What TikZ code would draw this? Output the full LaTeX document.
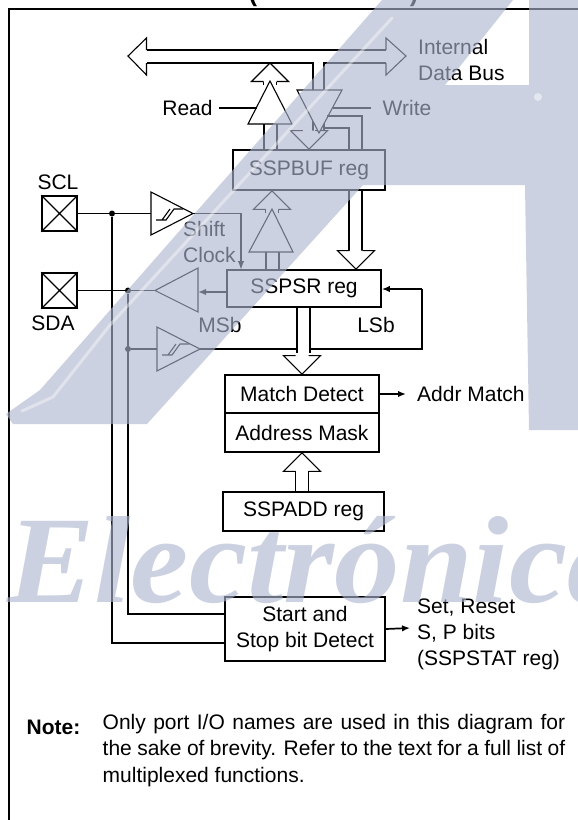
\documentclass[tikz,border=0pt]{standalone}
\usepackage{fontspec}
\setmainfont{Liberation Sans}
\newfontfamily\wmfont{Liberation Serif}
\usepackage{tikz}
\usetikzlibrary{positioning,arrows.meta,calc}
\definecolor{wmblue}{rgb}{0.68,0.71,0.81}
\tikzset{
  wire/.style={line width=1.7pt},
  thinwire/.style={line width=1.1pt},
  flow/.style={wire,-{Latex[length=8pt,width=6.5pt]}},
  label/.style={font=\fontsize{21}{26}\selectfont,inner sep=0pt,align=left},
  regbox/.style={draw,wire,fill=white,label,align=center},
  padbox/.style={draw,wire,minimum size=35pt,inner sep=0pt},
  buffer/.style={thinwire,fill=white},
  jointdot/.style={circle,fill=black,inner sep=0pt,minimum size=6pt},
  wmshape/.style={fill=wmblue,opacity=0.62},
}
% hollow bus arrow: tip, tail length, rotation
\newcommand{\hollowbus}[3]{%
  \draw[thinwire,fill=white,shift={(#1)},rotate=#3]
    (-6.5,18.5) -- (-18.5,18.5) -- (0,0) -- (18.5,18.5) -- (6.5,18.5);
  \draw[wire,shift={(#1)},rotate=#3] (-6.5,18.5) -- (-6.5,#2) (6.5,18.5) -- (6.5,#2);}
% hysteresis mark inside a buffer
\newcommand{\schmitt}[1]{%
  \draw[thinwire,shift={(#1)}] (-8,6) -- (2,6) -- (10,-5) -- (19,-5) (-2,6) -- (6,-5);}
\begin{document}
\begin{tikzpicture}[x=1pt,y=-1pt]
  \useasboundingbox (0,0) rectangle (578,820);
  \node[label,font=\fontsize{25}{25}\selectfont\bfseries] (ttlleft) at (253,-5) {(};
  \node[label,font=\fontsize{25}{25}\selectfont\bfseries] (ttlright) at (414,-5) {)};
  \draw[wire] (9,820) -- (9,9) -- (578,9);

  % registers
  \node[regbox,minimum width=152pt,minimum height=40pt] (sspbuf) at (309,170) {SSPBUF reg};
  \node[regbox,minimum width=154pt,minimum height=37pt] (sspsr) at (304,288.5) {SSPSR reg};
  \node[regbox,minimum width=154pt,minimum height=38pt] (match) at (302,394) {Match Detect};
  \node[regbox,minimum width=154pt,minimum height=39pt,below=-1.7pt of match] (mask) {Address Mask};
  \node[regbox,minimum width=161pt,minimum height=39pt] (sspadd) at (303.5,511.5) {SSPADD reg};
  \node[regbox,minimum width=160pt,minimum height=64pt] (startstop) at (305,629) {Start and\\Stop bit Detect};

  % pins
  \node[padbox] (scl) at (59.5,213.5) {};
  \node[padbox] (sda) at (59.5,290.5) {};
  \draw[thinwire] (scl.south west) -- (scl.north east) (scl.north west) -- (scl.south east);
  \draw[thinwire] (sda.south west) -- (sda.north east) (sda.north west) -- (sda.south east);
  \node[label] (scllbl) at (58,182) {SCL};
  \node[label] (sdalbl) at (53,323) {SDA};

  % labels
  \node[label,anchor=west] (intlbl) at (418,60) {Internal\\Data Bus};
  \node[label] (readlbl) at (187.5,108) {Read};
  \node[label] (writelbl) at (407,108) {Write};
  \node[label,anchor=west] (shiftlbl) at (183,241.5) {Shift\\Clock};
  \node[label] (msblbl) at (220,325) {MSb};
  \node[label] (lsblbl) at (376,325) {LSb};
  \node[label,anchor=west] (addrlbl) at (417,394) {Addr Match};
  \node[label,anchor=west] (setlbl) at (417,634) {Set, Reset\\S, P bits\\(SSPSTAT reg)};
  \node[label,font=\fontsize{21}{26.5}\selectfont\bfseries,anchor=west] (notelbl) at (26.5,727) {Note:};
  \node[label,font=\fontsize{21}{26.5}\selectfont,anchor=north west] (notetxt) at (102.5,714)
    {\makebox[462.5pt][s]{Only port I/O names are used in this diagram for}\\\makebox[462.5pt][s]{the sake of brevity. Refer to the text for a full list of}\\multiplexed functions.};

  % data bus
  \coordinate (readin) at (257,108);
  \coordinate (writein) at (333,108);
  \draw[thinwire] (146.5,63) -- (146.5,75) -- (128,56) -- (146.5,38) -- (146.5,50)
    (386,50) -- (386,38) -- (406,56) -- (386,75) -- (386,63);
  \draw[wire] (313,90) -- (313,63) -- (146.5,63) (146.5,50) -- (386,50) (386,63) -- (324,63) -- (324,90);

  % read and write paths
  \draw[wire] (264,124) -- (264,150) (277,124) -- (277,150);
  \hollowbus{270,63}{22}{0}
  \draw[buffer] (270,81) -- (292,124) -- (248,124) -- cycle;
  \draw[wire] ($(readlbl.east)+(6,0)$) -- (readin);
  \draw[wire] (313,90) -- (313,131) (324,90) -- (324,131);
  \hollowbus{sspbuf.north}{19}{180}
  \draw[buffer] (297,90) -- (342,90) -- (319,133) -- cycle;
  \draw[wire] (writein) -- ($(writelbl.west)+(-11,0)$);
  \draw[wire] (362,150) |- (327,116) (349,150) |- (325,128);

  % shift register to buffer
  \draw[wire] (266,252) -- (266,270) (279,252) -- (279,270);
  \hollowbus{sspbuf.south -| 272,0}{22}{0}
  \draw[buffer] (272,209) -- (293,252) -- (249,252) -- cycle;
  \draw[wire] (349,190) -- (349,251) (362,190) -- (362,251);
  \hollowbus{sspsr.north -| 356,0}{18.5}{180}

  % clock and data lines
  \coordinate (schatip) at (193,213.5);
  \coordinate (schbtip) at (200,349);
  \coordinate (bufctip) at (155,290.5);
  \node[jointdot] (sclnode) at (112,213.5) {};
  \draw[wire] (scl.east) -- (151,213.5);
  \draw[buffer] (151,192) -- (schatip) -- (151,235) -- cycle;
  \schmitt{164,214}
  \draw[wire,-{Latex[length=9pt,width=6.5pt]}] (schatip) -| (241,270);
  \draw[wire] (sda.east) -- (bufctip);
  \draw[buffer] (bufctip) -- (198,268) -- (198,312) -- cycle;
  \draw[flow] (sspsr.west |- 0,292) -- (198,292);
  \node[jointdot] (sdanode) at (128,290.5) {};
  \node[jointdot] (schbnode) at (128,349) {};
  \draw[wire] (schbnode) -- (157,349);
  \draw[buffer] (157,327) -- (schbtip) -- (157,371) -- cycle;
  \schmitt{170,349}
  \draw[wire] (schbtip) -- (297,349);
  \draw[wire] (310,349) -- (422,349) -- (422,289);
  \draw[flow] (422,289) -- (sspsr.east |- 0,289);
  \draw[wire] (297,307) -- (297,353) (310,307) -- (310,353);
  \hollowbus{match.north}{18.5}{180}

  % lower paths
  \hollowbus{mask.south}{40}{0}
  \draw[flow] (match.east) -- (406,394);
  \draw[flow] (startstop.east) -- (410,628);
  \draw[wire] (sclnode) |- (225,643);
  \draw[wire] (sdanode) |- (225,614);

  % background mark laid over the drawing
  \fill[wmshape] (382,0) -- (513,0) -- (445,85) -- (529,85) -- (529,0) -- (578,0) -- (578,430)
    -- (529,430) -- (525,185) -- (363,185) -- (147,424) -- (13,424) -- (6,414) -- (40,390) -- cycle;
  \draw[white,opacity=0.4,line width=3pt,line cap=round] (392,18) -- (110,325) -- (53,397) -- (22,411);
  \fill[white,opacity=0.5] (538,97) circle (4pt);
  \node[font=\wmfont\fontsize{124}{124}\selectfont\bfseries\itshape,text=wmblue,text opacity=0.62,
    inner sep=0pt,anchor=base west,xscale=1.056,transform shape] (wordmark) at (7,602) {Electrónica};
\end{tikzpicture}
\end{document}
